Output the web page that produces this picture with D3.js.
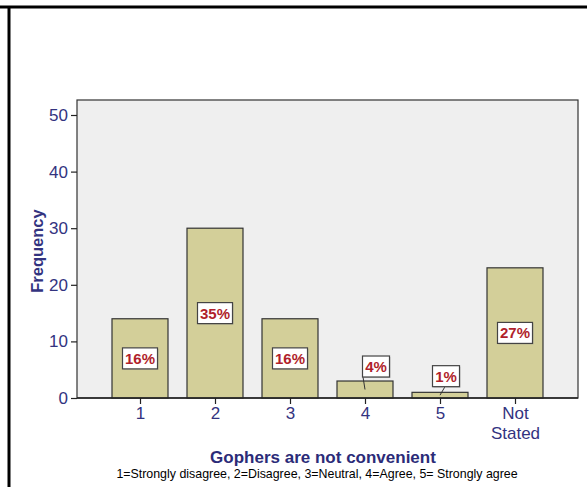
<!DOCTYPE html>
<html><head><meta charset="utf-8">
<script src="https://cdn.jsdelivr.net/npm/d3@7"></script>
<style>body{margin:0;background:#fff;}svg{display:block;font-family:"Liberation Sans",Arial,sans-serif;}</style>
</head><body><svg id="c" width="587" height="487"></svg>
<script>
const categories = ["1","2","3","4","5","Not Stated"];
const frequencies = [14, 30, 14, 3, 1, 23];
const percentLabels = ["16%","35%","16%","4%","1%","27%"];
const yTicks = [0, 10, 20, 30, 40, 50];
const xTitle = "Gophers are not convenient";
const xSubtitle = "1=Strongly disagree, 2=Disagree, 3=Neutral, 4=Agree, 5= Strongly agree";
const yTitle = "Frequency";

const svg = d3.select("#c");
const L = 77, R = 578, T = 100, B = 398;
const y = d3.scaleLinear().domain([0, 50]).range([B, 115]);
const x = d3.scalePoint().domain(categories).range([L, R]).padding(0.84);
const bw = 56;
const navy = "#33337f";

// frame lines
svg.append("line").attr("x1",0).attr("x2",587).attr("y1",7).attr("y2",7).attr("stroke","#000").attr("stroke-width",3);
svg.append("line").attr("x1",9).attr("x2",9).attr("y1",6).attr("y2",487).attr("stroke","#000").attr("stroke-width",3);

// plot area
svg.append("rect").attr("x",L).attr("y",T).attr("width",R-L).attr("height",B-T)
  .attr("fill","#efefef").attr("stroke","#333").attr("stroke-width",1.2);

// bars
svg.selectAll("rect.bar").data(frequencies).enter().append("rect").attr("class","bar")
  .attr("x",(d,i)=>x(categories[i])-bw/2).attr("width",bw)
  .attr("y",d=>y(d)).attr("height",d=>B-y(d))
  .attr("fill","#d3cf99").attr("stroke","#333").attr("stroke-width",1.2);

// y axis
const ya = svg.append("g").attr("transform",`translate(${L},0)`)
  .call(d3.axisLeft(y).tickValues(yTicks).tickSize(6).tickPadding(3));
ya.select(".domain").remove();
ya.selectAll(".tick line").attr("stroke","#222").attr("stroke-width",1.2);
ya.selectAll(".tick text").attr("fill",navy).attr("font-size",17).attr("font-family","Liberation Sans, Arial, sans-serif");

// x axis
const xa = svg.append("g").attr("transform",`translate(0,${B})`)
  .call(d3.axisBottom(x).tickSize(6).tickPadding(3));
xa.select(".domain").attr("stroke","#222").attr("stroke-width",1.5).attr("d",`M${L},0H${R}`);
xa.selectAll(".tick line").attr("stroke","#222").attr("stroke-width",1.2);
xa.selectAll(".tick text").attr("fill",navy).attr("font-size",17).attr("font-family","Liberation Sans, Arial, sans-serif")
  .each(function(d){
    const t = d3.select(this); const words = d.split(" ");
    if (words.length > 1) {
      t.text(null);
      words.forEach((w,i)=>t.append("tspan").attr("x",0).attr("dy", i===0 ? "0.71em" : "1.15em").text(w));
      t.attr("dy",null);
    }
  });

// percentage labels
const offsets = [[0,0],[0,0],[0,0],[11,-23],[6,-19],[0,0]];
frequencies.forEach((v,i)=>{
  const cx = x(categories[i]);
  const my = (y(v)+B)/2;
  const lx = cx + offsets[i][0], ly = my + offsets[i][1];
  const w = percentLabels[i].length > 2 ? 35 : 27, h = 21;
  if (offsets[i][1] !== 0) {
    svg.append("line").attr("x1",cx).attr("y1",my).attr("x2",lx - (i===3?13:1)).attr("y2",ly+h/2)
      .attr("stroke","#333").attr("stroke-width",1);
  }
  svg.append("rect").attr("x",lx-w/2+1).attr("y",ly-h/2+1).attr("width",w).attr("height",h).attr("fill","#999").attr("opacity",0.5);
  svg.append("rect").attr("x",lx-w/2).attr("y",ly-h/2).attr("width",w).attr("height",h)
    .attr("fill","#fff").attr("stroke","#444").attr("stroke-width",1.2);
  svg.append("text").attr("x",lx).attr("y",ly+5.5).attr("text-anchor","middle")
    .attr("font-size",15).attr("font-weight","bold").attr("fill","#b01f2b").text(percentLabels[i]);
});

// titles
svg.append("text").attr("transform","translate(43,251) rotate(-90)").attr("text-anchor","middle")
  .attr("font-size",16.5).attr("font-weight","bold").attr("fill",navy).text(yTitle);
svg.append("text").attr("x",323).attr("y",463).attr("text-anchor","middle")
  .attr("font-size",17).attr("font-weight","bold").attr("fill","#2b2b78").text(xTitle);
svg.append("text").attr("x",317).attr("y",478).attr("text-anchor","middle")
  .attr("font-size",12.4).attr("fill","#000").text(xSubtitle);
</script></body></html>
